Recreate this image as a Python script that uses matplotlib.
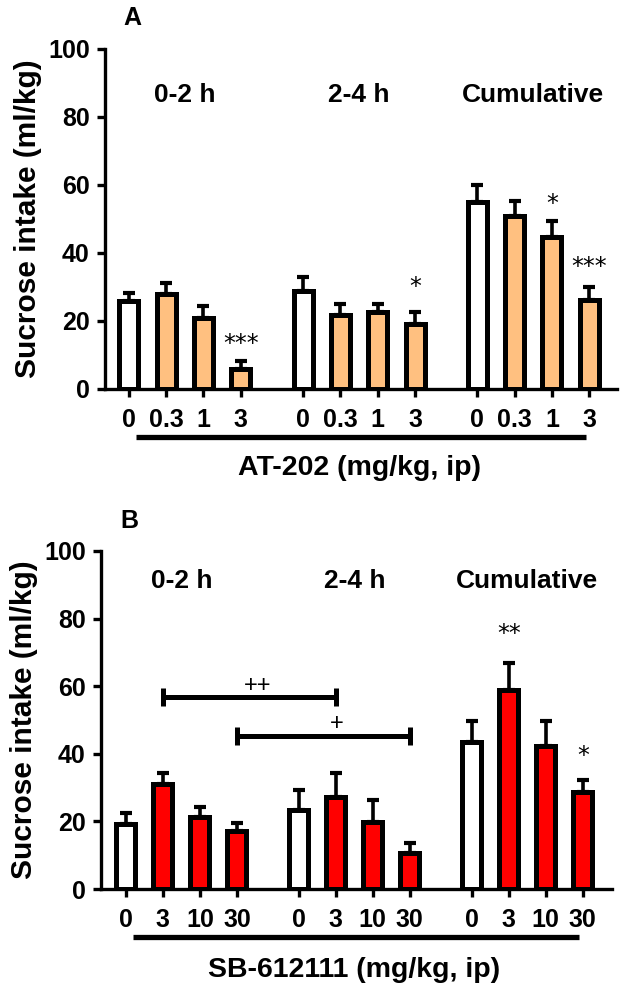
import numpy as np
import matplotlib
matplotlib.use('Agg')
import matplotlib.pyplot as plt
from matplotlib.transforms import blended_transform_factory

plt.rcParams['font.family'] = ['Liberation Sans', 'DejaVu Sans']
plt.rcParams['font.weight'] = 'bold'
plt.rcParams['axes.labelweight'] = 'bold'

# data (mean and SEM, ml/kg)
groups = ['0-2 h', '2-4 h', 'Cumulative']

doses_a = ['0', '0.3', '1', '3']
mean_a = [25.8, 28.0, 20.9, 6.0, 28.7, 21.8, 22.6, 19.0, 55.1, 50.8, 44.6, 26.1]
sem_a = [2.4, 3.2, 3.4, 2.1, 4.2, 3.3, 2.5, 3.7, 5.0, 4.4, 4.7, 3.8]
stars_a = ['', '', '', '***', '', '', '', '*', '', '', '*', '***']
star_y_a = [0, 0, 0, 14.8, 0, 0, 0, 31.7, 0, 0, 56.0, 37.5]

doses_b = ['0', '3', '10', '30']
mean_b = [19.2, 31.0, 21.4, 17.3, 23.4, 27.1, 19.8, 10.6, 43.6, 58.9, 42.3, 28.8]
sem_b = [3.2, 3.2, 3.0, 2.2, 6.0, 7.1, 6.6, 3.0, 6.1, 8.0, 7.4, 3.5]
stars_b = ['', '', '', '', '', '', '', '', '', '**', '', '*']
star_y_b = [0, 0, 0, 0, 0, 0, 0, 0, 0, 77.0, 0, 41.0]

# comparisons between 0-2 h and 2-4 h (bar index from, bar index to, y, label, label pos)
brk_from = [1, 3]
brk_to = [5, 7]
brk_y = [56.8, 45.3]
brk_txt = ['++', '+']
brk_txt_x = [3.55, 5.7]
brk_txt_y = [60.6, 49.4]

orange = '#FFC080'
red = '#FF0000'

# bar positions: 4 per group, gap between groups
x = np.concatenate([g * 4.67 + np.arange(4) for g in range(3)])


def draw_panel(ax, means, sems, fill, doses, stars, star_y, xlabel, letter,
               xlim, title_y, lab_y):
    colors = [('white' if i % 4 == 0 else fill) for i in range(len(means))]
    ax.errorbar(x, means, yerr=[np.zeros(len(sems)), sems], fmt='none',
                ecolor='black', elinewidth=2.6, capsize=4.5, capthick=3.0, zorder=1)
    ax.bar(x, means, width=0.51, color=colors, edgecolor='black', linewidth=3.6, zorder=2)

    for xi, s, sy in zip(x, stars, star_y):
        if s:
            ax.annotate(s, (xi, sy), xytext=(0, -9), textcoords='offset points',
                        ha='center', va='baseline', fontsize=17, fontweight='normal',
                        family='DejaVu Sans')

    for g, name in enumerate(groups):
        ax.text(x[g * 4:g * 4 + 4].mean(), title_y, name, ha='center', va='center', fontsize=19)

    ax.set_xlim(*xlim)
    ax.set_ylim(0, 100)
    ax.set_yticks(np.arange(0, 101, 20))
    ax.set_xticks(x)
    ax.set_xticklabels(doses * 3)
    ax.spines['top'].set_visible(False)
    ax.spines['right'].set_visible(False)
    ax.spines['left'].set_linewidth(2.4)
    ax.spines['bottom'].set_linewidth(2.4)
    ax.tick_params(width=2.4, length=6, labelsize=18, pad=5)
    ax.tick_params(axis='x', pad=8)
    ax.set_ylabel('Sucrose intake (ml/kg)', fontsize=21.5, labelpad=4)

    tr = blended_transform_factory(ax.transData, ax.transAxes)
    ax.plot([x[0] + 0.2, x[-1] - 0.1], [-0.141, -0.141], color='black', lw=3.8,
            transform=tr, clip_on=False, solid_capstyle='butt')
    ax.text((x[0] + x[-1]) / 2, lab_y, xlabel, transform=tr, ha='center', va='center',
            fontsize=20.5)
    ax.text(x[0] + 0.1, 1.09, letter, transform=tr, ha='center', va='center', fontsize=18)


fig = plt.figure(figsize=(6.25, 9.89), dpi=100)
axA = fig.add_axes([0.168, 0.6067, 0.819, 0.3438])
axB = fig.add_axes([0.1616, 0.1011, 0.8176, 0.3418])

draw_panel(axA, mean_a, sem_a, orange, doses_a, stars_a, star_y_a,
           'AT-202 (mg/kg, ip)', 'A', (-0.64, 13.08), 86.5, -0.232)
draw_panel(axB, mean_b, sem_b, red, doses_b, stars_b, star_y_b,
           'SB-612111 (mg/kg, ip)', 'B', (-0.67, 13.13), 91.0, -0.24)

for f, t, y, s, tx, ty in zip(brk_from, brk_to, brk_y, brk_txt, brk_txt_x, brk_txt_y):
    axB.plot([x[f], x[t]], [y, y], color='black', lw=3.6, solid_capstyle='butt', zorder=3)
    axB.plot([x[f], x[t]], [y, y], ls='none', marker='|', ms=13, mew=3.6, color='black', zorder=3)
    axB.annotate(s, (tx, ty), xytext=(0, -5.5), textcoords='offset points',
                 ha='center', va='baseline', fontsize=17, fontweight='normal')

fig.savefig('out.png', dpi=100)
